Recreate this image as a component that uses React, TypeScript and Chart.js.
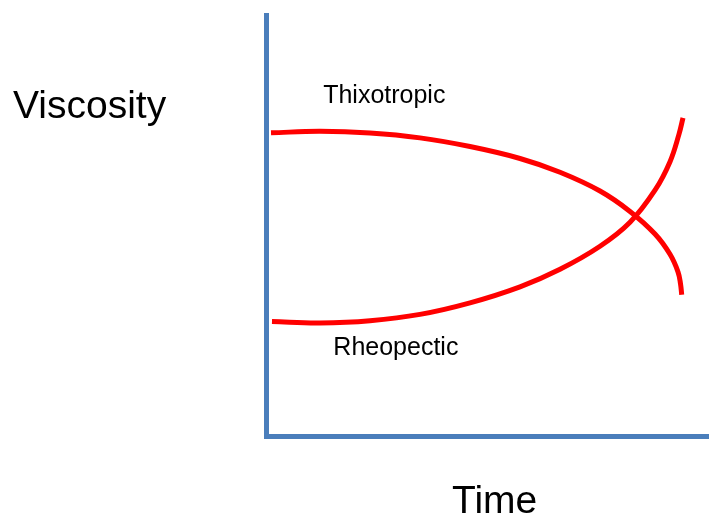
import React, { useEffect, useRef } from "react";
import { Chart, registerables } from "chart.js";

Chart.register(...registerables);

// Time (arbitrary units, 0-100) and viscosity (arbitrary units, 0-100)
const thixoTime = [1.13, 12.19, 23.48, 34.76, 46.05, 57.34, 66.37, 75.4, 82.17, 87.81, 91.2, 93.0, 93.57, 93.84];
const thixoVisc = [72.01, 72.37, 71.97, 70.81, 68.75, 65.92, 62.64, 58.19, 53.34, 47.97, 43.16, 39.0, 36.15, 33.53];

const rheoTime = [1.35, 12.19, 23.48, 34.76, 46.05, 57.34, 66.37, 75.4, 82.17, 87.81, 91.2, 93.23, 94.13];
const rheoVisc = [27.18, 26.87, 27.4, 28.89, 31.63, 35.43, 39.6, 45.07, 50.77, 58.38, 65.16, 71.7, 75.55];

const seriesNames = ["Thixotropic", "Rheopectic"];
const labelPos = [
  { x: 12.9, y: 79.1 },
  { x: 15.2, y: 19.3 },
];
const yTitle = "Viscosity";
const xTitle = "Time";

const FONT = "'Liberation Sans', Arial, sans-serif";
const AXIS = "#4a7ebb";
const RED = "#ff0000";

export default function App() {
  const ref = useRef<HTMLCanvasElement | null>(null);

  useEffect(() => {
    if (!ref.current) return;
    const labelsPlugin = {
      id: "labelsPlugin",
      afterDraw(chart: any) {
        const ctx = chart.ctx;
        const xs = chart.scales.x;
        const ys = chart.scales.y;
        ctx.save();
        ctx.fillStyle = "#000";
        ctx.textBaseline = "alphabetic";
        ctx.textAlign = "left";
        ctx.font = `25px ${FONT}`;
        seriesNames.forEach((n, i) => {
          ctx.fillText(n, xs.getPixelForValue(labelPos[i].x), ys.getPixelForValue(labelPos[i].y));
        });
        ctx.font = `39px ${FONT}`;
        ctx.fillText(yTitle, 13, 118);
        ctx.fillText(xTitle, 452, 513);
        ctx.restore();
      },
    };
    const chart = new Chart(ref.current, {
      type: "line",
      data: {
        datasets: [
          {
            label: seriesNames[0],
            data: thixoTime.map((t, i) => ({ x: t, y: thixoVisc[i] })),
            borderColor: RED,
            borderWidth: 5,
            pointRadius: 0,
            tension: 0.4,
            fill: false,
          },
          {
            label: seriesNames[1],
            data: rheoTime.map((t, i) => ({ x: t, y: rheoVisc[i] })),
            borderColor: RED,
            borderWidth: 5,
            pointRadius: 0,
            tension: 0.4,
            fill: false,
          },
        ],
      },
      options: {
        animation: false,
        responsive: false,
        devicePixelRatio: 1,
        layout: { padding: { left: 266, top: 15, right: 0, bottom: 83 } },
        plugins: { legend: { display: false }, tooltip: { enabled: false } },
        scales: {
          x: {
            type: "linear",
            min: 0,
            max: 100,
            grid: { display: false, drawTicks: false },
            ticks: { display: false },
            border: { display: true, color: AXIS, width: 5 },
          },
          y: {
            type: "linear",
            min: 0,
            max: 100,
            grid: { display: false, drawTicks: false },
            ticks: { display: false },
            border: { display: true, color: AXIS, width: 5 },
          },
        },
      },
      plugins: [labelsPlugin],
    } as any);
    return () => chart.destroy();
  }, []);

  return (
    <div style={{ position: "absolute", left: 0, top: 0, width: 709, height: 519, background: "#fff" }}>
      <canvas ref={ref} width={709} height={519} />
    </div>
  );
}
